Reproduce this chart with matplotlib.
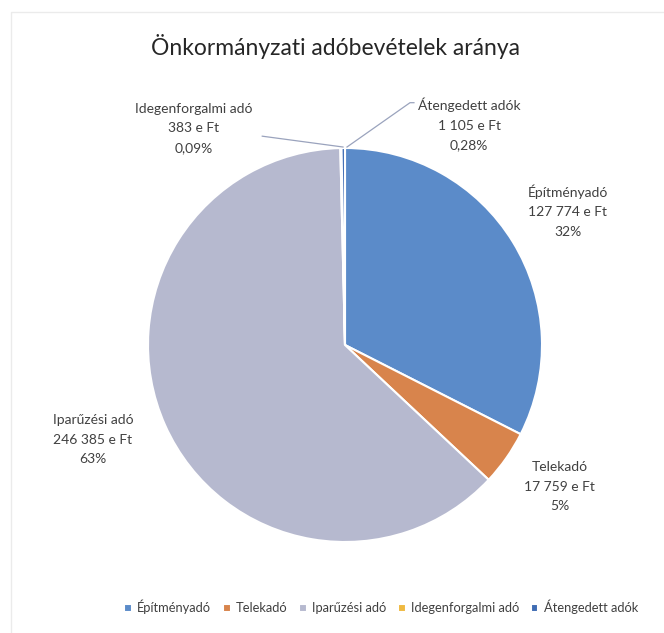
import matplotlib
matplotlib.use('agg')
import matplotlib.pyplot as plt
from matplotlib.patches import Rectangle

plt.rcParams['font.family'] = ['Lato', 'DejaVu Sans']

categories = ["Építményadó", "Telekadó", "Iparűzési adó", "Idegenforgalmi adó", "Átengedett adók"]
values = [127774, 17759, 246385, 383, 1105]
value_labels = ["127 774 e Ft", "17 759 e Ft", "246 385 e Ft", "383 e Ft", "1 105 e Ft"]
pct_labels = ["32%", "5%", "63%", "0,09%", "0,28%"]
colors = ["#5b8bc9", "#d8844c", "#b6b9cf", "#efb941", "#3f6cb3"]

# label placement in pie-radius units (centre = 0,0)
label_pos = [(1.13, 0.68), (1.09, -0.72), (-1.28, -0.48), (-0.77, 1.10), (0.63, 1.12)]

W, H = 664, 633
cx, cy, r = 345, 345, 197

fig = plt.figure(figsize=(W / 100, H / 100), dpi=100)
ax = fig.add_axes([0, 0, 1, 1])

wedges, _ = ax.pie(values, colors=colors, startangle=90, counterclock=False,
                   radius=1, wedgeprops=dict(edgecolor='white', linewidth=1.5))
ax.set_xlim(-cx / r, (W - cx) / r)
ax.set_ylim((cy - H) / r, cy / r)
ax.set_aspect('auto')
ax.axis('off')

txt_color = "#404040"
for cat, vl, pl, (x, y) in zip(categories, value_labels, pct_labels, label_pos):
    ax.text(x, y, f"{cat}\n{vl}\n{pl}", ha='center', va='center', fontsize=10,
            color=txt_color, linespacing=1.75)

# leader lines for the two tiny slices
line_col = "#9aa3bd"
ax.plot([-0.42, -0.01], [1.06, 1.005], color=line_col, lw=0.9)
ax.plot([0.01, 0.33, 0.35], [1.005, 1.23, 1.23], color=line_col, lw=0.9)

fig.text(0.505, 0.926, "Önkormányzati adóbevételek aránya", ha='center', va='center',
         fontsize=16.5, color="#262626")

fig.legend(wedges, categories, loc='center', bbox_to_anchor=(0.574, 0.041), ncol=5,
           frameon=False, fontsize=9.3, handlelength=0.6, handleheight=0.6,
           handletextpad=0.4, columnspacing=0.9, labelcolor=txt_color)

# faint chart-area frame, runs off the right and bottom edges
fig.patches.append(Rectangle((0.017, -0.05), 1.1, 1.031, transform=fig.transFigure,
                             fill=False, edgecolor="#ebebeb", lw=1))

fig.savefig("out.png", dpi=100)
